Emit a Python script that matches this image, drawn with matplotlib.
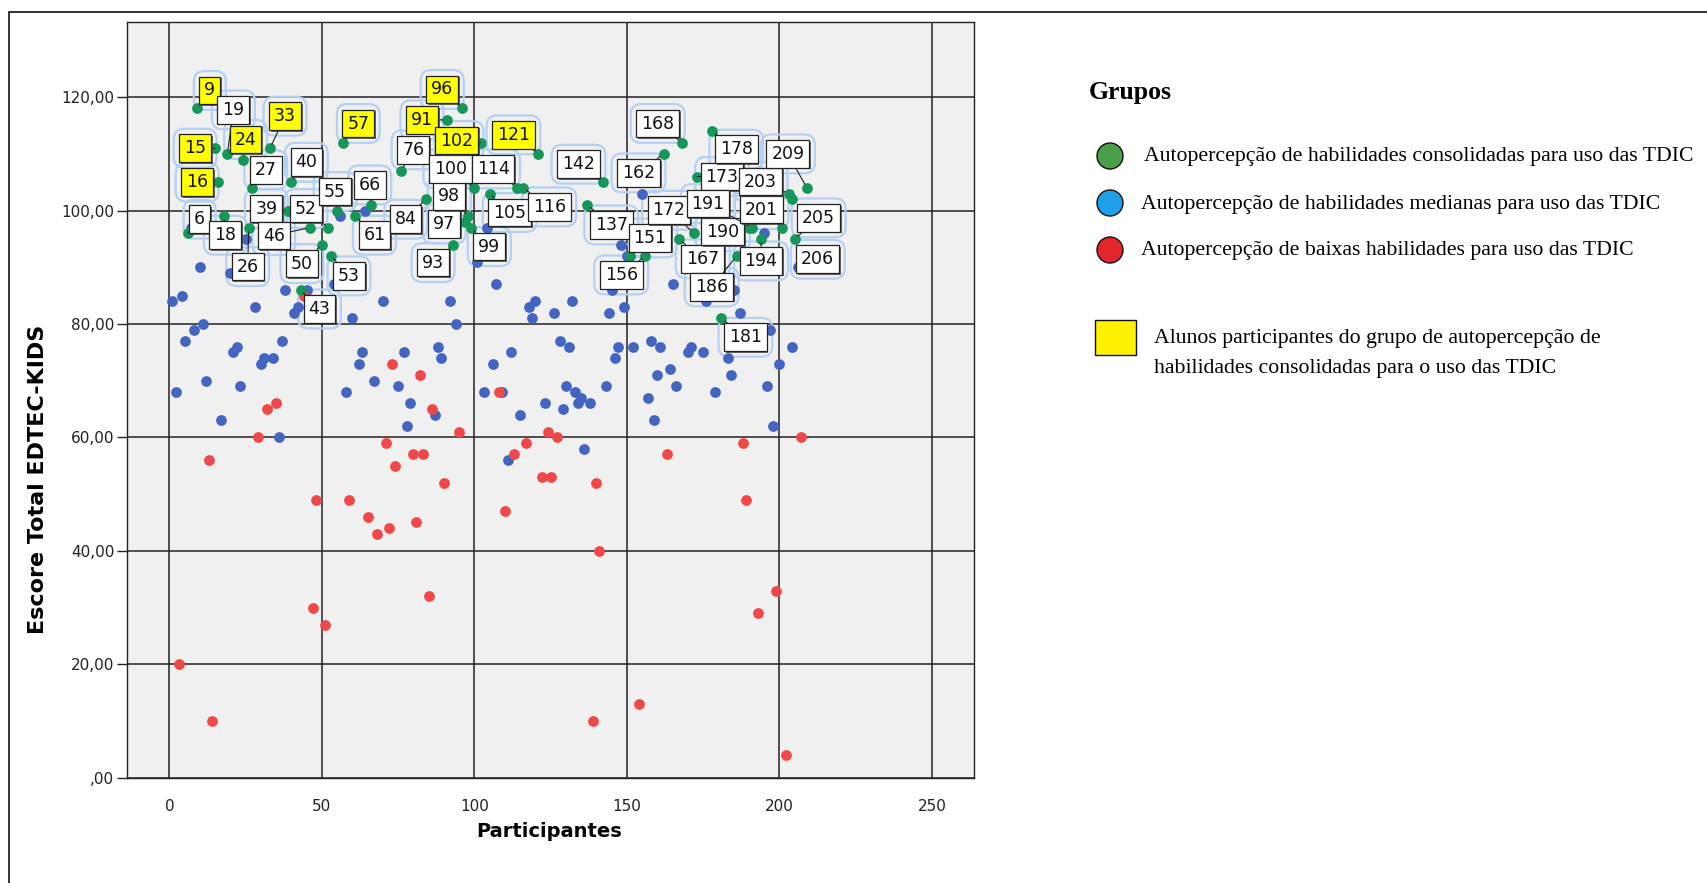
import matplotlib
matplotlib.use('Agg')
import matplotlib.pyplot as plt
import matplotlib.patheffects as pe
from matplotlib.patches import Ellipse, Rectangle
from matplotlib.ticker import FuncFormatter

W, H, DPI = 1708, 883, 100

# participant number and EDTEC-KIDS total score, one pair of lists per group
consolidated_ids = [6, 9, 15, 16, 18, 19, 24, 26, 27, 33, 39, 40, 43, 46, 50, 52,
                    53, 55, 57, 61, 66, 76, 84, 91, 93, 96, 97, 98, 99, 100, 102,
                    105, 114, 116, 121, 137, 142, 151, 156, 162, 167, 168, 172,
                    173, 178, 181, 186, 190, 191, 194, 201, 203, 204, 205, 209]
consolidated_scores = [96, 118, 111, 105, 99, 110, 109, 97, 104, 111, 100, 105, 86,
                       97, 94, 97, 92, 100, 112, 99, 101, 107, 102, 116, 94, 118,
                       98, 99, 97, 104, 112, 103, 104, 104, 110, 101, 105, 92, 92,
                       110, 95, 112, 96, 106, 114, 81, 92, 97, 97, 95, 97, 103,
                       102, 95, 104]

median_ids = [1, 2, 4, 5, 7, 8, 10, 11, 12, 17, 20, 21, 22, 23, 25, 28, 30, 31, 34,
              36, 37, 38, 41, 42, 45, 54, 56, 58, 60, 62, 63, 64, 67, 70, 75, 77,
              78, 79, 87, 88, 89, 92, 94, 101, 103, 104, 106, 107, 109, 111, 112,
              115, 118, 119, 120, 123, 126, 128, 129, 130, 131, 132, 133, 134,
              135, 136, 138, 143, 144, 145, 146, 147, 148, 149, 150, 152, 155,
              157, 158, 159, 160, 161, 164, 165, 166, 170, 171, 174, 175, 176,
              179, 182, 183, 184, 185, 187, 195, 196, 197, 198, 200, 204, 206]
median_scores = [84, 68, 85, 77, 97, 79, 90, 80, 70, 63, 89, 75, 76, 69, 95, 83, 73,
                 74, 74, 60, 77, 86, 82, 83, 86, 87, 99, 68, 81, 73, 75, 100, 70,
                 84, 69, 75, 62, 66, 64, 76, 74, 84, 80, 91, 68, 97, 73, 87, 68,
                 56, 75, 64, 83, 81, 84, 66, 82, 77, 65, 69, 76, 84, 68, 66, 67,
                 58, 66, 69, 82, 86, 74, 76, 94, 83, 92, 76, 103, 67, 77, 63, 71,
                 76, 72, 87, 69, 75, 76, 85, 75, 84, 68, 85, 74, 71, 86, 82, 96,
                 69, 79, 62, 73, 76, 90]

low_ids = [3, 13, 14, 29, 32, 35, 44, 47, 48, 51, 59, 65, 68, 71, 72, 73, 74, 80,
           81, 82, 83, 85, 86, 90, 95, 108, 110, 113, 117, 122, 124, 125, 127,
           139, 140, 141, 154, 163, 188, 189, 193, 199, 202, 207]
low_scores = [20, 56, 10, 60, 65, 66, 85, 30, 49, 27, 49, 46, 43, 59, 44, 73, 55,
              57, 45, 71, 57, 32, 65, 52, 61, 68, 47, 57, 59, 53, 61, 53, 60, 10,
              52, 40, 13, 57, 59, 49, 29, 33, 4, 60]

# participants shown with a yellow label
highlighted_ids = [9, 15, 16, 24, 33, 57, 91, 96, 102, 121]

# label box offsets from each labelled point, in pixels (right, up)
label_offsets = {
    6: (12, 14), 9: (13, 18), 15: (-20, 0), 16: (-21, 0), 18: (1, -19),
    19: (6, 44), 24: (3, 20), 26: (-1, -39), 27: (14, 18), 33: (15, 32),
    39: (-22, 2), 40: (15, 20), 43: (19, -19), 46: (-36, -8), 50: (-20, -19),
    52: (-22, 19), 53: (18, -20), 55: (-2, 19), 57: (15, 19), 61: (19, -19),
    66: (-1, 20), 76: (12, 21), 84: (-20, -20), 91: (-25, 0), 93: (-20, -18),
    96: (-20, 19), 97: (-21, -2), 98: (-19, 20), 99: (18, -19), 100: (-24, 19),
    102: (-24, 2), 105: (20, -19), 114: (-24, 19), 116: (26, -19),
    121: (-25, 19), 137: (24, -20), 142: (-24, 18), 151: (20, 18),
    156: (-24, -19), 162: (-25, -19), 167: (24, -20), 168: (-24, 19),
    172: (-25, 23), 173: (25, 0), 178: (24, -18), 181: (24, -19),
    186: (-25, -31), 190: (-26, -4), 191: (-44, 24), 194: (0, -22),
    201: (-21, 18), 203: (-28, 12), 205: (24, 21), 206: (20, 8),
    209: (-19, 34),
}

green = '#16975A'
blue = '#4464C2'
red = '#F04848'

fig = plt.figure(figsize=(W / DPI, H / DPI), dpi=DPI)
fig.patch.set_facecolor('white')
ax = fig.add_axes([126.7 / W, 1 - 777.7 / H, (974 - 126.7) / W, (777.7 - 21.7) / H])
ax.set_facecolor('#F0F0F0')

ax.scatter(median_ids, median_scores, s=60, c=blue, linewidths=0, zorder=3)
ax.scatter(low_ids, low_scores, s=60, c=red, linewidths=0, zorder=3)
ax.scatter(consolidated_ids, consolidated_scores, s=60, c=green, linewidths=0, zorder=4)

score_of = dict(zip(median_ids, median_scores))
score_of.update(zip(low_ids, low_scores))
score_of.update(zip(consolidated_ids, consolidated_scores))

to_pt = 72 / DPI
for pid, (dx, dy) in label_offsets.items():
    y = score_of[pid]
    face = '#FFFF00' if pid in highlighted_ids else 'white'
    # pale blue outline behind each label, under the points
    ax.annotate(str(pid), (pid, y), xytext=(dx * to_pt, dy * to_pt),
                textcoords='offset points', ha='center', va='center',
                fontsize=12.5, color='none', zorder=2,
                bbox=dict(boxstyle='round,pad=0.6', fc='none', ec='#B5D0F2', lw=1.6))
    ax.annotate(str(pid), (pid, y), xytext=(dx * to_pt, dy * to_pt),
                textcoords='offset points', ha='center', va='center',
                fontsize=12.5, color='#111111', zorder=6,
                bbox=dict(boxstyle='square,pad=0.28', fc=face, ec='#222222', lw=0.9,
                          path_effects=[pe.withSimplePatchShadow(offset=(1.2, -1.2),
                                                                 shadow_rgbFace='#444444',
                                                                 alpha=0.8)]),
                arrowprops=dict(arrowstyle='-', color='#222222', lw=0.8,
                                shrinkA=0, shrinkB=3))

ax.set_xlim(-14, 263.8)
ax.set_ylim(0, 133.3)
ax.set_xticks(range(0, 251, 50))
ax.set_yticks(range(0, 121, 20))
ax.yaxis.set_major_formatter(FuncFormatter(
    lambda v, p: ',00' if v == 0 else f'{v:.2f}'.replace('.', ',')))
ax.grid(True, color='#222222', lw=1.1, zorder=1)
ax.set_axisbelow(True)
for sp in ax.spines.values():
    sp.set_color('#222222')
    sp.set_linewidth(1.0)
ax.tick_params(axis='y', length=7, width=1, pad=2, labelsize=11, colors='#222222')
ax.tick_params(axis='x', length=0, pad=15, labelsize=11, colors='#222222')

ax.set_xlabel('Participantes', fontsize=14, fontweight='bold')
ax.xaxis.set_label_coords(0.498, -0.058)
ax.set_ylabel('Escore Total EDTEC-KIDS', fontsize=16, fontweight='bold')
ax.yaxis.set_label_coords(-0.093, 0.395)


# legend drawn in pixel positions of the figure
def fx(x):
    return x / W


def fy(y):
    return 1 - y / H


serif = 'Liberation Serif'
fig.text(fx(1089), fy(93), 'Grupos', fontsize=18.5, fontweight='bold',
         family=serif, va='center', ha='left')
legend_rows = [
    ('#4A9E48', 'Autopercepção de habilidades consolidadas para uso das TDIC', 157, 1144),
    ('#1FA0E8', 'Autopercepção de habilidades medianas para uso das TDIC', 204, 1141),
    ('#E3262B', 'Autopercepção de baixas habilidades para uso das TDIC', 251, 1141),
]
for color, text, yy, tx in legend_rows:
    fig.add_artist(Ellipse((fx(1110), fy(yy - 1)), 26 / W, 26 / H, fc=color,
                           ec='#111111', lw=1.0, transform=fig.transFigure))
    fig.text(fx(tx), fy(yy), text, fontsize=15.7, family=serif,
             va='center', ha='left')

fig.add_artist(Rectangle((fx(1095), fy(355)), 41 / W, 35 / H, fc='#FFF200',
                         ec='#111111', lw=1.0, transform=fig.transFigure))
fig.text(fx(1154), fy(339), 'Alunos participantes do grupo de autopercepção de',
         fontsize=15.7, family=serif, va='center', ha='left')
fig.text(fx(1154), fy(368), 'habilidades consolidadas para o uso das TDIC',
         fontsize=15.7, family=serif, va='center', ha='left')

# outer frame
fig.add_artist(Rectangle((fx(9), -0.1), 1.2, fy(12) + 0.1, fill=False,
                         ec='#111111', lw=1.2, transform=fig.transFigure))

fig.savefig('out.png', dpi=DPI)
